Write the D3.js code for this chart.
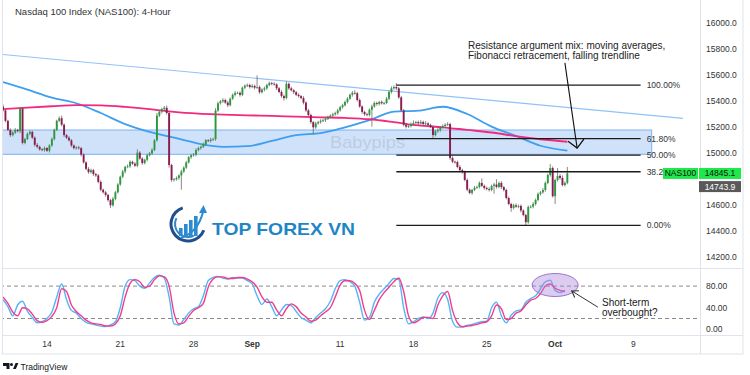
<!DOCTYPE html>
<html>
<head>
<meta charset="utf-8">
<script src="https://cdn.jsdelivr.net/npm/d3@7"></script>
<style>
  html, body { margin: 0; padding: 0; background: #fff; }
  svg { display: block; font-family: "Liberation Sans", Arial, sans-serif; }
</style>
</head>
<body>
<svg id="chart" width="750" height="375"></svg>
<script>
// ---- data (4h bars, index 0 = first bar on screen) ----
const firstOpen = 15360;
const closes = [
  15330,15250,15180,15140,15160,15180,15170,15345,15080,15110,
  15150,15165,15120,15065,15050,15030,15025,15040,15020,15060,
  15110,15180,15250,15270,15220,15140,15120,15100,15060,15040,
  15045,15040,14990,14930,14880,14855,14870,14840,14830,14780,
  14720,14700,14680,14640,14600,14650,14700,14760,14820,14860,
  14895,14900,14935,14920,14905,15005,14960,14925,14950,14985,
  15000,15025,15100,15290,15320,15340,15350,15310,14910,14795,
  14800,14810,14830,14860,14890,14930,14970,14985,14990,15025,
  15040,15050,15070,15100,15095,15105,15110,15330,15385,15400,
  15410,15390,15370,15420,15450,15465,15465,15450,15505,15520,
  15525,15510,15518,15505,15510,15470,15490,15500,15525,15540,
  15535,15530,15500,15472,15440,15425,15535,15500,15485,15470,
  15450,15440,15425,15390,15330,15295,15240,15200,15230,15240,
  15250,15255,15265,15280,15290,15300,15310,15330,15355,15370,
  15395,15420,15450,15465,15462,15410,15360,15318,15300,15295,
  15335,15360,15387,15380,15395,15385,15387,15420,15472,15500,
  15510,15500,15430,15330,15220,15205,15210,15225,15233,15240,
  15230,15241,15225,15230,15218,15202,15140,15170,15180,15200,
  15210,15220,15225,14964,14935,14933,14895,14870,14856,14795,
  14720,14695,14718,14735,14741,14772,14750,14733,14725,14718,
  14749,14760,14741,14772,14740,14718,14656,14610,14580,14600,
  14590,14595,14560,14525,14470,14587,14590,14610,14641,14687,
  14700,14718,14772,14833,14887,14670,14795,14826,14810,14756,
  14772,14845.1
];
// wick length above / below the body, in points
const wickHi = [
  15,10,8,12,10,14,8,10,12,9, 10,12,8,10,14,9,10,12,8,10,
  12,10,8,14,20,10,9,12,10,8, 10,12,9,10,8,14,12,10,9,10,
  12,8,10,9,10,14,12,10,8,12, 10,15,10,8,12,25,12,10,9,12,
  10,14,9,20,12,10,14,18,10,9, 10,12,8,14,10,12,9,10,12,14,
  10,9,12,10,8,14,10,18,12,10, 14,10,12,9,10,14,10,12,8,10,
  12,10,14,10,90,12,10,14,10,12, 10,12,9,10,14,12,20,10,12,9,
  10,12,8,14,10,12,10,9,12,10, 12,10,14,9,10,12,10,14,10,12,
  10,12,9,14,20,10,12,10,9,12, 10,14,12,10,9,12,10,14,12,15,
  12,30,10,12,10,14,10,12,20,10, 12,14,10,18,9,10,12,10,14,10,
  12,10,14,10,12,9,10,14,12,10, 12,10,9,14,10,12,35,10,12,14,
  10,12,40,10,14,9,10,12,10,12, 14,10,12,9,10,12,10,14,10,12,
  10,14,12,10,30,12,10,60,14,20, 12,50
];
const wickLo = [
  10,12,9,14,10,12,10,15,12,10, 9,12,10,14,12,10,9,12,10,14,
  10,12,9,10,12,14,10,9,12,10, 12,10,14,9,10,12,10,14,12,10,
  12,10,14,12,20,10,12,9,10,12, 14,10,12,9,10,12,10,14,10,12,
  10,12,9,10,12,14,10,12,20,15, 12,10,14,110,12,10,9,12,10,14,
  10,12,9,14,10,12,10,14,12,10, 12,10,14,9,10,12,10,14,10,12,
  10,12,9,14,10,12,10,14,12,10, 12,10,14,10,12,20,10,12,9,14,
  10,12,10,14,12,10,12,55,12,10, 12,10,14,9,10,12,10,14,10,12,
  10,12,9,14,10,12,10,14,12,10, 12,130,10,14,12,10,12,9,10,12,
  10,14,12,10,12,14,10,12,9,10, 12,10,14,10,12,9,25,10,12,14,
  10,12,9,14,10,12,10,14,12,10, 12,10,14,9,10,12,10,14,10,12,
  10,60,12,10,14,12,10,9,30,12, 10,12,14,10,25,12,10,14,12,10,
  12,10,14,10,12,10,60,12,14,10, 12,10
];

// moving averages, sampled every 10 bars
const maBars  = [0,10,20,30,40,50,60,70,80,90,100,110,120,130,140,150,160,170,180,190,200,210,220,231];
const blueMA  = [15548,15490,15428,15385,15310,15225,15165,15120,15075,15050,15055,15095,15140,15155,15200,15255,15320,15328,15358,15302,15205,15133,15058,15020];
const pinkMA  = [15340,15352,15362,15370,15368,15357,15340,15318,15305,15298,15292,15288,15282,15277,15272,15262,15240,15214,15200,15180,15160,15132,15108,15089];

// falling trendline end points
const trendBars   = [-1.2, 278.3];
const trendPrices = [15762, 15269];

// resistance zone
const zoneTop = 15179, zoneBottom = 14992;
const zoneBars = [-1.3, 265.5];

// fibonacci retracement (38.2 label is half hidden by the symbol badge)
const fibHigh = 15525, fibLow = 14446;
const fibBars = [161, 261];
const fibLevels = [1, 0.618, 0.5, 0.382, 0];
const fibLabels = ['100.00%', '61.80%', '50.00%', '38.2', '0.00%'];

// stochastic, every 2 bars
const stochK = [
  55,42,25,45,52,33,22,12,14,20, 32,60,84,55,35,30,20,13,10,8,
  6,5,8,14,40,80,92,90,80,76, 86,96,100,95,60,10,8,18,30,38,
  42,62,90,96,98,95,93,96,95,95, 90,84,62,46,56,42,25,36,46,44,
  33,22,17,12,22,30,38,52,75,90, 92,88,80,50,17,22,50,65,75,85,
  94,92,40,10,14,20,23,20,30,58, 68,55,15,4,4,7,9,12,14,15,
  40,50,25,12,26,34,36,50,57,62, 75,88,91,72,68,72
];
const stochD = [
  60,48,32,25,40,38,28,16,13,16, 24,40,75,70,45,33,25,17,12,10,
  9,6,6,10,25,60,85,92,88,78, 80,92,99,97,80,30,10,12,24,35,
  40,48,78,93,97,97,94,94,96,96, 93,88,78,60,50,50,36,25,38,47,
  42,30,23,15,17,25,32,40,60,82, 90,90,85,72,35,18,35,55,68,78,
  88,95,70,25,12,16,22,22,20,45, 62,70,35,12,5,6,7,9,12,14,
  25,45,38,18,20,30,34,45,54,57, 66,80,84,76,72,70
];
const stochLevels = [20, 80];
const stochTicks = [0, 40, 80];

// axes
const priceTicks = [14200, 14400, 14600, 14800, 15000, 15200, 15400, 15600, 15800, 16000];
const timeTickBars = [18, 48, 78, 102, 138, 168, 198, 226, 258];
const timeTickLabels = ['14', '21', '28', 'Sep', '11', '18', '25', 'Oct', '9'];

const symbol = 'NAS100';
const lastPrice = 14845.1;
const prevPrice = 14743.9;

const title = 'Nasdaq 100 Index (NAS100): 4-Hour';
const noteLines = ['Resistance argument mix: moving averages,', 'Fibonacci retracement, falling trendline'];
const stochNote = ['Short-term', 'overbought?'];

// ---- layout ----
const PLOT_RIGHT = 700, AXIS_RIGHT = 743;
const MAIN_BOTTOM = 268, STOCH_BOTTOM = 335, TIME_BOTTOM = 354;

const x = d3.scaleLinear().domain([-1.23, 285.3]).range([0, PLOT_RIGHT]);
const y = d3.scaleLinear().domain([14000, 16200]).range([283.3, -2.7]);
const ys = d3.scaleLinear().domain([0, 100]).range([329.3, 275.3]);

const svg = d3.select('#chart');
const defs = svg.append('defs');

defs.append('clipPath').attr('id', 'mainClip')
  .append('rect').attr('x', 3).attr('y', 0).attr('width', PLOT_RIGHT - 3).attr('height', MAIN_BOTTOM);
defs.append('clipPath').attr('id', 'stochClip')
  .append('rect').attr('x', 3).attr('y', MAIN_BOTTOM).attr('width', PLOT_RIGHT - 3).attr('height', STOCH_BOTTOM - MAIN_BOTTOM);

// open V arrow heads
defs.append('marker').attr('id', 'vBig')
  .attr('viewBox', '-10 -10 12 20').attr('markerUnits', 'userSpaceOnUse')
  .attr('markerWidth', 12).attr('markerHeight', 20).attr('refX', 0).attr('refY', 0).attr('orient', 'auto')
  .append('path').attr('d', 'M-8,-8L0,0L-8,8').attr('fill', 'none').attr('stroke', '#111').attr('stroke-width', 1.3);
defs.append('marker').attr('id', 'vSmall')
  .attr('viewBox', '-8 -6 10 12').attr('markerUnits', 'userSpaceOnUse')
  .attr('markerWidth', 10).attr('markerHeight', 12).attr('refX', 0).attr('refY', 0).attr('orient', 'auto')
  .append('path').attr('d', 'M-6,-4L0,0L-6,4').attr('fill', 'none').attr('stroke', '#333').attr('stroke-width', 1.1);

svg.append('rect').attr('width', 750).attr('height', 375).attr('fill', '#fff');

// ---- main pane ----
const main = svg.append('g').attr('clip-path', 'url(#mainClip)');

// resistance zone
main.append('rect')
  .attr('x', x(zoneBars[0])).attr('y', y(zoneTop))
  .attr('width', x(zoneBars[1]) - x(zoneBars[0]))
  .attr('height', y(zoneBottom) - y(zoneTop))
  .attr('fill', '#cfe2fa').attr('stroke', '#8dbbf3').attr('stroke-width', 1.2);

main.append('text')
  .attr('x', 330).attr('y', 148)
  .attr('font-size', 17).attr('fill', '#b4c2d4').attr('fill-opacity', 0.7)
  .attr('textLength', 75).attr('lengthAdjust', 'spacingAndGlyphs')
  .text('Babypips');

// trendline
main.append('line')
  .attr('x1', x(trendBars[0])).attr('y1', y(trendPrices[0]))
  .attr('x2', x(trendBars[1])).attr('y2', y(trendPrices[1]))
  .attr('stroke', '#90c2f9').attr('stroke-width', 1.2);

// moving averages
const maLine = d3.line().curve(d3.curveMonotoneX).x(d => x(d[0])).y(d => y(d[1]));
main.append('path')
  .datum(maBars.map((b, i) => [b, blueMA[i]]))
  .attr('d', maLine).attr('fill', 'none').attr('stroke', '#3d9ff0').attr('stroke-width', 1.8);
main.append('path')
  .datum(maBars.map((b, i) => [b, pinkMA[i]]))
  .attr('d', maLine).attr('fill', 'none').attr('stroke', '#f2297e').attr('stroke-width', 1.8);

// candles
const candles = closes.map((c, i) => {
  const o = i ? closes[i - 1] : firstOpen;
  return { i, o, c, h: Math.max(o, c) + wickHi[i], l: Math.min(o, c) - wickLo[i] };
});
const bodyW = 1.9;
const candle = main.append('g').selectAll('g').data(candles).join('g');
candle.append('line')
  .attr('x1', d => x(d.i)).attr('x2', d => x(d.i))
  .attr('y1', d => y(d.h)).attr('y2', d => y(d.l))
  .attr('stroke', '#6b6b6b').attr('stroke-width', 0.8);
candle.append('rect')
  .attr('x', d => x(d.i) - bodyW / 2)
  .attr('y', d => y(Math.max(d.o, d.c)))
  .attr('width', bodyW)
  .attr('height', d => Math.max(0.8, Math.abs(y(d.o) - y(d.c))))
  .attr('fill', d => d.c >= d.o ? '#2a9a3c' : '#8c1c4e');

// fibonacci levels
const fib = svg.append('g');
fibLevels.forEach((lv, k) => {
  const p = fibLow + (fibHigh - fibLow) * lv;
  fib.append('line')
    .attr('x1', x(fibBars[0])).attr('x2', x(fibBars[1]))
    .attr('y1', y(p)).attr('y2', y(p))
    .attr('stroke', '#1a1a1a').attr('stroke-width', 1.3);
  fib.append('text')
    .attr('x', x(fibBars[1]) + 6).attr('y', y(p) + 3)
    .attr('font-size', 8.5).attr('fill', '#333')
    .text(fibLabels[k]);
});

// title
svg.append('text').attr('x', 15).attr('y', 15)
  .attr('font-size', 9.5).attr('fill', '#333').text(title);

// annotation
const note = svg.append('text').attr('font-size', 10).attr('fill', '#222');
noteLines.forEach((t, k) => {
  note.append('tspan').attr('x', 468).attr('y', 49 + k * 9.6).text(t);
});
svg.append('line')
  .attr('x1', x(230)).attr('y1', y(15695))
  .attr('x2', x(235)).attr('y2', y(15040))
  .attr('stroke', '#111').attr('stroke-width', 1.1)
  .attr('marker-end', 'url(#vBig)');

// TOP FOREX VN logo
const logo = svg.append('g');
const cx = 188, cy = 224;
logo.append('path')
  .attr('transform', `translate(${cx},${cy})`)
  .attr('d', d3.arc().innerRadius(15.5).outerRadius(18.5).startAngle(Math.PI * 0.62).endAngle(Math.PI * 1.9)())
  .attr('fill', '#1f4f8c');
logo.append('path')
  .attr('transform', `translate(${cx},${cy})`)
  .attr('d', d3.arc().innerRadius(12).outerRadius(14).startAngle(Math.PI * 0.85).endAngle(Math.PI * 1.65)())
  .attr('fill', '#2e86c8');
[[179, 8], [184, 12], [189, 16], [194, 20]].forEach(([bx, bh]) => {
  logo.append('rect').attr('x', bx).attr('y', 236 - bh).attr('width', 3.6).attr('height', bh)
    .attr('fill', '#2a8bd0');
});
logo.append('path')
  .attr('d', 'M181,238 Q198,232 203,212')
  .attr('fill', 'none').attr('stroke', '#2a8bd0').attr('stroke-width', 2);
logo.append('path').attr('d', 'M199,213 L203.5,205 L207,213 Z').attr('fill', '#2a8bd0');
logo.append('text')
  .attr('x', 212).attr('y', 235)
  .attr('font-size', 17).attr('font-weight', 'bold').attr('fill', '#1f86c6')
  .attr('textLength', 143).attr('lengthAdjust', 'spacingAndGlyphs')
  .text('TOP FOREX VN');

// ---- stochastic pane ----
const stoch = svg.append('g').attr('clip-path', 'url(#stochClip)');
stochLevels.forEach(v => {
  stoch.append('line')
    .attr('x1', 0).attr('x2', PLOT_RIGHT)
    .attr('y1', ys(v)).attr('y2', ys(v))
    .attr('stroke', '#8a8a8a').attr('stroke-width', 1).attr('stroke-dasharray', '4,3');
});
const stLine = d3.line().curve(d3.curveMonotoneX).x((d, i) => x(i * 2)).y(d => ys(d));
stoch.append('path').datum(stochK).attr('d', stLine)
  .attr('fill', 'none').attr('stroke', '#55b4f6').attr('stroke-width', 1.4);
stoch.append('path').datum(stochD).attr('d', stLine)
  .attr('fill', 'none').attr('stroke', '#f23c8c').attr('stroke-width', 1.4);

stoch.append('ellipse')
  .attr('cx', x(226)).attr('cy', ys(82)).attr('rx', 23).attr('ry', 11.5)
  .attr('fill', '#a77fd6').attr('fill-opacity', 0.4)
  .attr('stroke', '#9a74cc').attr('stroke-width', 1);

svg.append('line')
  .attr('x1', x(243.5)).attr('y1', ys(41))
  .attr('x2', x(232.8)).attr('y2', ys(71))
  .attr('stroke', '#333').attr('stroke-width', 1)
  .attr('marker-end', 'url(#vSmall)');
const sNote = svg.append('text').attr('font-size', 10).attr('fill', '#222');
stochNote.forEach((t, k) => {
  sNote.append('tspan').attr('x', 602).attr('y', 306 + k * 10).text(t);
});

// ---- frame and separators ----
const frame = svg.append('g').attr('stroke', '#e0e3eb').attr('stroke-width', 1).attr('fill', 'none');
frame.append('rect').attr('x', 2.5).attr('y', -1).attr('width', AXIS_RIGHT - 2.5).attr('height', TIME_BOTTOM + 1);
frame.append('line').attr('x1', 2.5).attr('x2', AXIS_RIGHT).attr('y1', MAIN_BOTTOM + 0.5).attr('y2', MAIN_BOTTOM + 0.5);
frame.append('line').attr('x1', 2.5).attr('x2', AXIS_RIGHT).attr('y1', STOCH_BOTTOM + 0.5).attr('y2', STOCH_BOTTOM + 0.5);
frame.append('line').attr('x1', PLOT_RIGHT + 0.5).attr('x2', PLOT_RIGHT + 0.5).attr('y1', 0).attr('y2', TIME_BOTTOM);

// ---- price axis (labels under the price badges are hidden, as in TradingView) ----
const pAxis = svg.append('g').attr('font-size', 8.5).attr('fill', '#333');
priceTicks
  .filter(p => Math.abs(y(p) - y(lastPrice)) > 11 && Math.abs(y(p) - y(prevPrice)) > 11)
  .forEach(p => {
    pAxis.append('text').attr('x', 706).attr('y', y(p) + 3).text(d3.format('.1f')(p));
  });
stochTicks.forEach(v => {
  pAxis.append('text').attr('x', 706).attr('y', ys(v) + 3).text(d3.format('.2f')(v));
});

// last price badges
const badge = svg.append('g').attr('font-size', 8.5);
badge.append('rect').attr('x', 663).attr('y', y(lastPrice) - 5.5).attr('width', 35).attr('height', 11).attr('fill', '#1ee84a');
badge.append('text').attr('x', 680.5).attr('y', y(lastPrice) + 3).attr('text-anchor', 'middle').attr('fill', '#111').text(symbol);
badge.append('rect').attr('x', 699).attr('y', y(lastPrice) - 5.5).attr('width', 42).attr('height', 11).attr('fill', '#1ee84a');
badge.append('text').attr('x', 720).attr('y', y(lastPrice) + 3).attr('text-anchor', 'middle').attr('fill', '#111').text(d3.format('.1f')(lastPrice));
badge.append('rect').attr('x', 699).attr('y', y(prevPrice) - 5.5).attr('width', 42).attr('height', 11).attr('fill', '#595959');
badge.append('text').attr('x', 720).attr('y', y(prevPrice) + 3).attr('text-anchor', 'middle').attr('fill', '#fff').text(d3.format('.1f')(prevPrice));

// ---- time axis ----
const tAxis = svg.append('g').attr('font-size', 8.5).attr('fill', '#333').attr('text-anchor', 'middle');
timeTickBars.forEach((b, k) => {
  tAxis.append('text')
    .attr('x', x(b)).attr('y', 347)
    .attr('font-weight', isNaN(+timeTickLabels[k]) ? 'bold' : 'normal')
    .text(timeTickLabels[k]);
});

// TradingView footer
const tv = svg.append('g').attr('fill', '#131722');
tv.append('path').attr('d', 'M3,363h6.5v6h-3v-3h-3.5z');
tv.append('circle').attr('cx', 11.5).attr('cy', 364.5).attr('r', 1.5);
tv.append('path').attr('d', 'M13,369l2.6,-6h2.8l-2.6,6z');
tv.append('text').attr('x', 20.5).attr('y', 369.5).attr('font-size', 8.5).text('TradingView');
</script>
</body>
</html>
